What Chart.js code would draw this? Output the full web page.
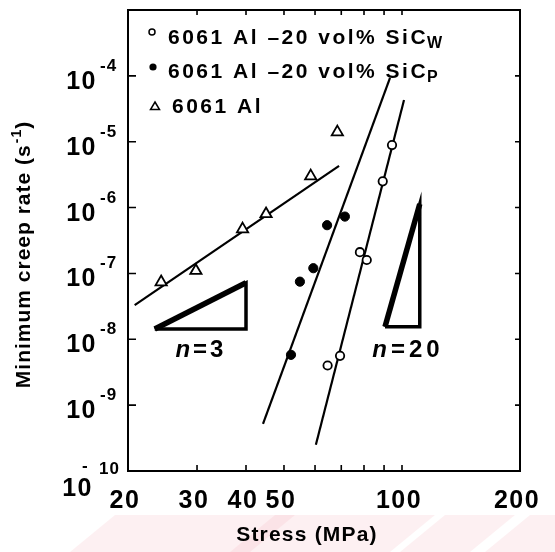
<!DOCTYPE html>
<html>
<head>
<meta charset="utf-8">
<script src="https://cdn.jsdelivr.net/npm/chart.js@4.4.1/dist/chart.umd.min.js"></script>
<style>
  html, body { margin: 0; padding: 0; background: #fff; }
</style>
</head>
<body>
<canvas id="chart" width="555" height="552"></canvas>
<script>
// stress (MPa) and minimum creep rate (1/s)
const whiskerStress = [94.3, 89.3, 78.1, 81.3, 69.5, 64.6];
const whiskerRate = [8.9e-6, 2.5e-6, 2.1e-7, 1.6e-7, 5.6e-9, 4.0e-9];
const particleStress = [52.1, 54.9, 59.4, 64.4, 71.5];
const particleRate = [5.8e-9, 7.5e-8, 1.2e-7, 5.4e-7, 7.3e-7];
const alloyStress = [24.3, 29.8, 39.2, 45.0, 58.5, 68.4];
const alloyRate = [7.4e-8, 1.1e-7, 4.7e-7, 8.0e-7, 3.0e-6, 1.4e-5];

// fitted lines (end points)
const whiskerFitStress = [60.3, 101.2];
const whiskerFitRate = [2.5e-10, 4.3e-5];
const particleFitStress = [44.2, 93.2];
const particleFitRate = [5.2e-10, 9.3e-5];
const alloyFitStress = [20.8, 69.1];
const alloyFitRate = [3.3e-8, 4.3e-6];

// slope triangles
const n3Stress = [23.4, 40, 40, 23.4];
const n3Rate = [1.43e-8, 1.43e-8, 7.2e-8, 1.43e-8];
const n20Stress = [90.5, 111, 111, 90.5];
const n20Rate = [1.55e-8, 1.55e-8, 1.13e-6, 1.55e-8];

const xTickLabels = [20, 30, 40, 50, 100, 200];
const xMinorTicks = [30, 40, 50, 60, 70, 80, 90, 100];
const yTickExponents = [-4, -5, -6, -7, -8, -9, -10];

const legendNames = ['6061 Al \u201320 vol% SiC', '6061 Al \u201320 vol% SiC', '6061 Al'];
const legendSubs = ['W', 'P', ''];

const FONT = '"Liberation Sans", Arial, Helvetica, sans-serif';

const pts = (xs, ys) => xs.map((x, i) => ({ x: x, y: ys[i] }));

function put(ctx, str, x, y, size, opts) {
    opts = opts || {};
    ctx.font = (opts.italic ? 'italic ' : '') + 'bold ' + size + 'px ' + FONT;
    ctx.letterSpacing = (opts.spacing || 0) + 'px';
    ctx.textAlign = opts.align || 'left';
    ctx.textBaseline = 'alphabetic';
    ctx.fillText(str, x, y);
    return ctx.measureText(str).width;
}

function width(ctx, str, size, spacing, italic) {
    ctx.font = (italic ? 'italic ' : '') + 'bold ' + size + 'px ' + FONT;
    ctx.letterSpacing = (spacing || 0) + 'px';
    return ctx.measureText(str).width;
}

const paperPlugin = {
    id: 'paper',
    beforeDraw(chart) {
        const ctx = chart.ctx;
        ctx.save();
        ctx.fillStyle = '#fff';
        ctx.fillRect(0, 0, chart.width, chart.height);
        // faint pink watermark at the bottom of the scan
        ctx.fillStyle = 'rgba(245, 170, 185, 0.18)';
        [[70, 250], [230, 390], [400, 470], [485, 560]].forEach(b => {
            ctx.beginPath();
            ctx.moveTo(b[0], 552);
            ctx.lineTo(b[0] + 45, 515);
            ctx.lineTo(b[1] + 45, 515);
            ctx.lineTo(b[1], 552);
            ctx.closePath();
            ctx.fill();
        });
        ctx.restore();
    },
    afterDraw(chart) {
        const ctx = chart.ctx;
        const area = chart.chartArea;
        const x = chart.scales.x;
        const y = chart.scales.y;
        ctx.save();
        ctx.strokeStyle = '#000';
        ctx.fillStyle = '#000';

        // frame
        ctx.lineWidth = 2;
        ctx.strokeRect(area.left, area.top, area.right - area.left, area.bottom - area.top);

        // inward ticks
        ctx.lineWidth = 1.6;
        ctx.beginPath();
        xMinorTicks.forEach(v => {
            const px = x.getPixelForValue(v);
            ctx.moveTo(px, area.bottom);
            ctx.lineTo(px, area.bottom - 6);
            ctx.moveTo(px, area.top);
            ctx.lineTo(px, area.top + 5);
        });
        yTickExponents.slice(0, -1).forEach(e => {
            const py = y.getPixelForValue(Math.pow(10, e));
            ctx.moveTo(area.left, py);
            ctx.lineTo(area.left + 8, py);
            ctx.moveTo(area.right, py);
            ctx.lineTo(area.right - 5, py);
        });
        ctx.stroke();

        // x tick labels
        xTickLabels.forEach(v => {
            put(ctx, String(v), x.getPixelForValue(v) - 3, 508, 25, { align: 'center', spacing: 1.5 });
        });

        // y tick labels with superscript exponents
        yTickExponents.forEach(e => {
            const py = y.getPixelForValue(Math.pow(10, e));
            if (e === -10) {
                put(ctx, '10', 93, py + 25, 25, { align: 'right', spacing: 1.5 });
                put(ctx, '-', 82, py, 17);
                put(ctx, '10', 99, py + 3, 17, { spacing: 1 });
            } else {
                put(ctx, '10', 97, py + 13, 25, { align: 'right', spacing: 1.5 });
                put(ctx, '-' + Math.abs(e), 100, py - 5, 17, { spacing: 1 });
            }
        });

        // x title
        put(ctx, 'Stress (MPa)', 307, 541, 21, { align: 'center', spacing: 1.2 });

        // y title, rotated, with s^-1
        ctx.save();
        ctx.translate(30, 255);
        ctx.rotate(-Math.PI / 2);
        const partA = 'Minimum creep rate (s';
        const total = width(ctx, partA, 21, 1) + width(ctx, '-1', 14, 1) + width(ctx, ')', 21, 1);
        let cx = -total / 2;
        cx += put(ctx, partA, cx, 0, 21, { spacing: 1 });
        cx += put(ctx, '-1', cx + 1, -9, 14, { spacing: 1 });
        put(ctx, ')', cx + 1, 0, 21, { spacing: 1 });
        ctx.restore();

        // legend
        const rows = [44, 78, 113];
        const textX = [168, 168, 172];
        rows.forEach((base, i) => {
            const w = put(ctx, legendNames[i], textX[i], base, 21, { spacing: 2.5 });
            if (legendSubs[i]) {
                put(ctx, legendSubs[i], textX[i] + w - 1, base + 4, 16, { spacing: 1 });
            }
        });
        ctx.lineWidth = 1.5;
        ctx.beginPath();
        ctx.arc(152, 32, 3, 0, Math.PI * 2);
        ctx.stroke();
        ctx.beginPath();
        ctx.arc(153, 67, 3.6, 0, Math.PI * 2);
        ctx.fill();
        ctx.beginPath();
        ctx.moveTo(155, 102);
        ctx.lineTo(159.5, 109.5);
        ctx.lineTo(150.5, 109.5);
        ctx.closePath();
        ctx.stroke();

        // slope labels
        const drawN = (label, sx, ry, spacing) => {
            const px = x.getPixelForValue(sx);
            const py = y.getPixelForValue(ry) + 8;
            const wn = width(ctx, 'n', 24, spacing, true);
            const wr = width(ctx, label, 24, spacing);
            const start = px - (wn + wr) / 2;
            put(ctx, 'n', start, py, 24, { italic: true, spacing: spacing });
            put(ctx, label, start + wn, py, 24, { spacing: spacing });
        };
        drawN('=3', 30.7, 7.1e-9, 3);
        drawN('=20', 103.6, 7.1e-9, 4);

        ctx.restore();
    }
};

const lineSet = (data, w) => ({
    data: data,
    showLine: true,
    borderColor: '#000',
    borderWidth: w,
    pointRadius: 0,
    fill: false,
    borderJoinStyle: 'miter'
});

new Chart(document.getElementById('chart'), {
    type: 'scatter',
    data: {
        datasets: [
            {
                data: pts(whiskerStress, whiskerRate),
                pointStyle: 'circle', pointRadius: 4.2, borderWidth: 1.8,
                borderColor: '#000', backgroundColor: '#fff'
            },
            {
                data: pts(particleStress, particleRate),
                pointStyle: 'circle', pointRadius: 4.6, borderWidth: 1,
                borderColor: '#000', backgroundColor: '#000'
            },
            {
                data: pts(alloyStress, alloyRate),
                pointStyle: 'triangle', pointRadius: 6.5, borderWidth: 1.8,
                borderColor: '#000', backgroundColor: '#fff'
            },
            lineSet(pts(whiskerFitStress, whiskerFitRate), 2.2),
            lineSet(pts(particleFitStress, particleFitRate), 2.2),
            lineSet(pts(alloyFitStress, alloyFitRate), 2.2),
            lineSet(pts(n3Stress, n3Rate), 3.5),
            lineSet(pts(n3Stress.slice(2), n3Rate.slice(2)), 5.5),
            lineSet(pts(n20Stress, n20Rate), 3.5),
            lineSet(pts(n20Stress.slice(2), n20Rate.slice(2)), 5.5)
        ]
    },
    options: {
        responsive: false,
        devicePixelRatio: 1,
        animation: false,
        events: [],
        layout: { padding: { left: 128, right: 35, top: 10, bottom: 81 } },
        plugins: { legend: { display: false }, tooltip: { enabled: false } },
        scales: {
            x: {
                type: 'logarithmic', min: 20, max: 200,
                ticks: { display: false },
                grid: { display: false },
                border: { display: false },
                afterFit(scale) { scale.height = 0; }
            },
            y: {
                type: 'logarithmic', min: 1e-10, max: 1e-3,
                ticks: { display: false },
                grid: { display: false },
                border: { display: false },
                afterFit(scale) { scale.width = 0; }
            }
        }
    },
    plugins: [paperPlugin]
});
</script>
</body>
</html>
